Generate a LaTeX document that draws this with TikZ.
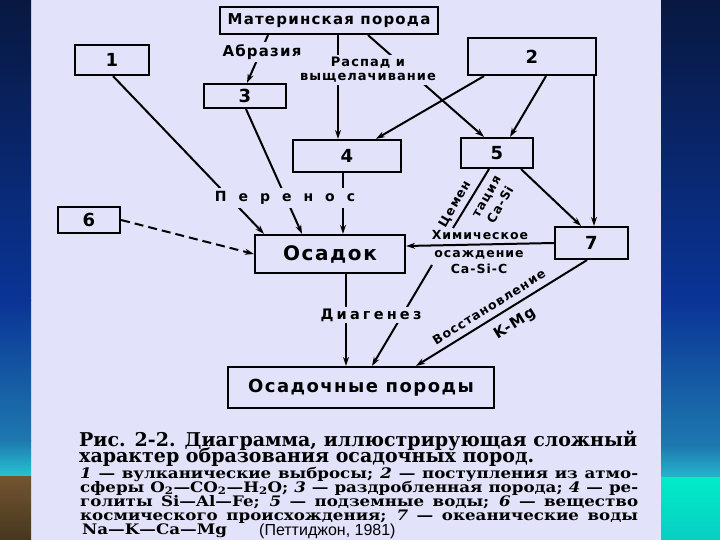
\documentclass[tikz,border=0pt]{standalone}
\usepackage{fontspec}
\setmainfont{DejaVu Serif}
\newfontfamily\lblfont[LetterSpace=8]{DejaVu Sans}
\newfontfamily\lblwide[LetterSpace=22]{DejaVu Sans}
\newfontfamily\capfont{DejaVu Serif}
\newfontfamily\capwide[FakeStretch=1.15]{DejaVu Serif}
\newfontfamily\srcfont{Liberation Sans}
\usetikzlibrary{arrows.meta,calc}
\definecolor{pagecol}{RGB}{226,226,250}
\definecolor{navy}{RGB}{8,24,64}
\definecolor{midblue}{RGB}{10,52,150}
\definecolor{lowblue}{RGB}{30,120,175}
\definecolor{cyanl}{RGB}{40,195,210}
\definecolor{brownt}{RGB}{115,85,50}
\definecolor{brownb}{RGB}{70,55,30}
\definecolor{cyanr}{RGB}{0,235,200}
\begin{document}
\begin{tikzpicture}[x=1pt,y=-1pt,
  box/.style={draw, line width=2.2pt, inner sep=0pt, font=\lblfont\bfseries\fontsize{18}{18}\selectfont},
  ln/.style={line width=2pt},
  arr/.style={line width=2pt, -{Stealth[length=9pt,width=6pt]}},
  lab/.style={fill=pagecol, inner sep=2pt, font=\lblfont\bfseries\fontsize{13}{14}\selectfont},
  txt/.style={inner sep=0pt, font=\lblfont\bfseries\fontsize{12.5}{16}\selectfont},
  capA/.style={anchor=base west, inner sep=0pt, font=\capfont\bfseries\fontsize{19}{19}\selectfont},
  capB/.style={anchor=base west, inner sep=0pt, font=\capwide\bfseries\fontsize{14.5}{14}\selectfont}]
\useasboundingbox (0,0) rectangle (720,540);
% background
\fill[pagecol] (0,0) rectangle (720,540);
\shade[top color=navy, bottom color=midblue] (0,0) rectangle (31,300);
\shade[top color=midblue, bottom color=lowblue] (0,300) rectangle (31,440);
\shade[top color=lowblue, bottom color=cyanl] (0,440) rectangle (31,476);
\shade[top color=brownt, bottom color=brownb] (0,476) rectangle (31,540);
\shade[top color=navy, bottom color=midblue] (661,0) rectangle (720,300);
\shade[top color=midblue, bottom color=lowblue] (661,300) rectangle (720,445);
\shade[top color=lowblue, bottom color=cyanl!80!lowblue] (661,445) rectangle (720,477);
\shade[top color=cyanr, bottom color=cyanr!75!lowblue] (661,477) rectangle (720,540);

% boxes
\node[box, minimum width=218pt, minimum height=27pt] (mat) at (329,20.5) {\fontsize{15}{15}\selectfont Материнская порода};
\node[box, minimum width=74pt, minimum height=30pt] (b1) at (112,60) {1};
\node[box, minimum width=82pt, minimum height=24pt] (b3) at (245,96) {3};
\node[box, minimum width=128pt, minimum height=37pt] (b2) at (532,56.5) {2};
\node[box, minimum width=72pt, minimum height=30pt] (b5) at (497,153) {5};
\node[box, minimum width=108pt, minimum height=32pt] (b4) at (347,156) {4};
\node[box, minimum width=62pt, minimum height=26pt] (b6) at (89,220) {6};
\node[box, minimum width=150pt, minimum height=38pt] (osadok) at (330,254) {\fontsize{20}{20}\selectfont Осадок};
\node[box, minimum width=73pt, minimum height=32pt] (b7) at (591.5,243) {7};
\node[box, minimum width=266pt, minimum height=41pt] (poroda) at (361,387.5) {\fontsize{18}{18}\selectfont Осадочные породы};

\coordinate (cem) at (453,228);
\coordinate (chem) at (432,265);

% connectors
\draw[arr] ($(mat.south)+(-61,0)$) -- ($(b3.north)+(2,0)$);
\draw[arr] ($(mat.south)+(9,0)$) -- ($(b4.north)+(-9,0)$);
\draw[arr] ($(mat.south)+(39,0)$) -- ($(b5.north)+(-13,0)$);
\draw[arr] ($(b1.south)+(1,0)$) -- ($(osadok.north)+(-66,0)$);
\draw[arr] ($(b3.south)+(1,0)$) -- ($(osadok.north)+(-28,0)$);
\draw[arr] ($(b4.south)+(-4,0)$) -- ($(osadok.north)+(13,0)$);
\draw[arr] ($(b2.south)+(-48,0)$) -- ($(b4.north)+(29,0)$);
\draw[arr] ($(b2.south)+(14,0)$) -- ($(b5.north)+(13,0)$);
\draw[arr] ($(b2.south)+(62,0)$) -- ($(b7.north)+(2.5,0)$);
\draw[arr] ($(b5.south)+(24,0)$) -- ($(b7.north)+(-10.5,0)$);
\draw[ln] ($(b5.south)+(-8,0)$) -- (cem);
\draw[arr, dash pattern=on 9pt off 5pt] (b6.east) -- (osadok.west);
\draw[arr] (b7.west) -- ($(osadok.east)+(0,-8)$);
\draw[arr] (chem) -- ($(poroda.north)+(11,0)$);
\draw[arr] ($(osadok.south)+(16,0)$) -- ($(poroda.north)+(-15,0)$);
\draw[arr] ($(b7.south)+(-4.5,0)$) -- ($(poroda.north)+(55,0)$);

% labels
\node[lab, font=\lblfont\bfseries\fontsize{15}{15}\selectfont] (abr) at (262,52) {Абразия};
\node[lab, align=center] (rasp) at (368,70) {Распад и\\выщелачивание};
\node[lab, inner sep=3pt, font=\lblfont\bfseries\fontsize{14}{14}\selectfont] (pere) at (285,198) {П\hspace{12pt}е\hspace{12pt}р\hspace{12pt}е\hspace{12pt}н\hspace{12pt}о\hspace{12pt}с};
\node[lab, font=\lblwide\bfseries\fontsize{14.5}{14}\selectfont] (diag) at (371,315) {Диагенез};
\node[txt] (khim) at (480,235) {Химическое};
\node[txt, align=center] (osazh) at (479,262) {осаждение\\Ca-Si-C};
\node[txt, rotate=60] (cemA) at (455,204) {Цемен};
\node[txt, rotate=60, align=center] (cemB) at (494,201) {тация\\Ca-Si};
\node[txt, rotate=32] (vosst) at (489,307) {Восстановление};
\node[txt, rotate=32, font=\lblfont\bfseries\fontsize{15}{15}\selectfont] (kmg) at (515,324) {K-Mg};

% caption
\node[capA] (c1) at (79,446) {\makebox[558pt][s]{Рис. 2-2. Диаграмма, иллюстрирующая сложный}};
\node[capA] (c2) at (79,462) {характер образования осадочных пород.};
\node[capB] (c3) at (80,478) {\makebox[558pt][s]{\textit{1} — вулканические выбросы; \textit{2} — поступления из атмо-}};
\node[capB] (c4) at (80,492) {\makebox[558pt][s]{сферы O\textsubscript{2}—CO\textsubscript{2}—H\textsubscript{2}O; \textit{3} — раздробленная порода; \textit{4} — ре-}};
\node[capB] (c5) at (80,506) {\makebox[558pt][s]{голиты Si—Al—Fe; \textit{5} — подземные воды; \textit{6} — вещество}};
\node[capB] (c6) at (80,520) {\makebox[558pt][s]{космического происхождения; \textit{7} — океанические воды}};
\node[capB] (c7) at (82,534) {Na—K—Ca—Mg};
\node[anchor=base west, inner sep=0pt, font=\srcfont\fontsize{16}{16}\selectfont] (src) at (259,535) {(Петтиджон, 1981)};
\end{tikzpicture}
\end{document}
